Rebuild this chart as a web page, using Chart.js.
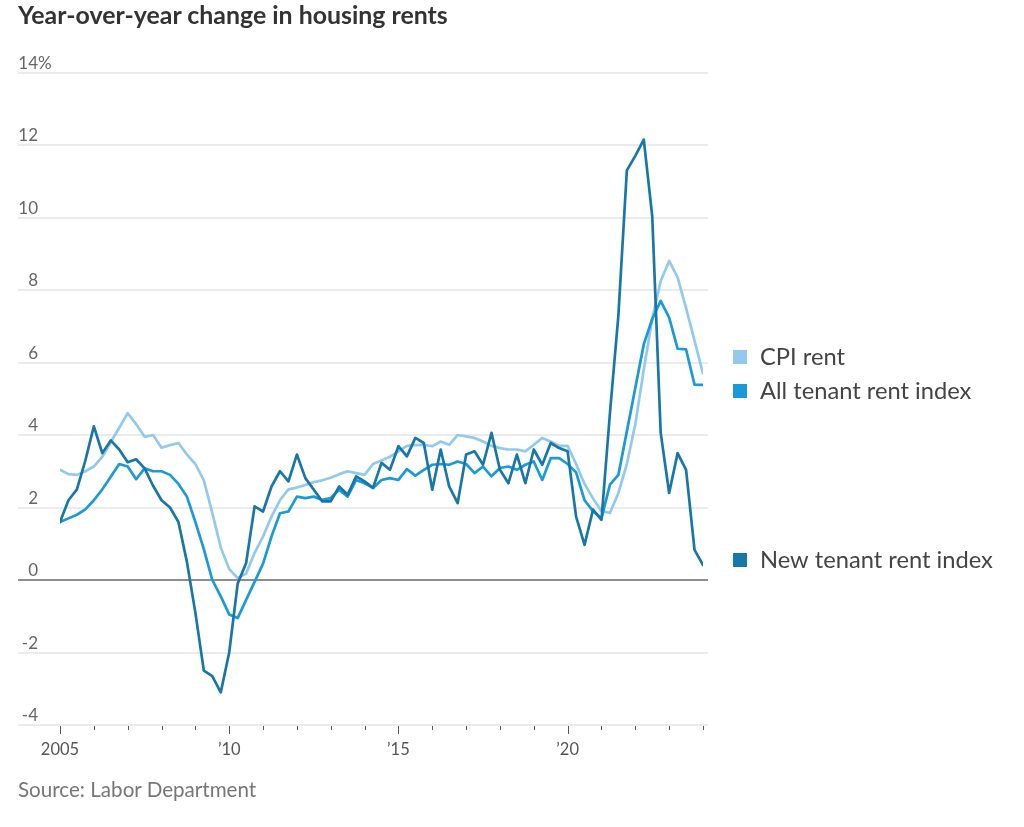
<!DOCTYPE html>
<html><head><meta charset="utf-8">
<script src="https://cdn.jsdelivr.net/npm/chart.js@4.4.1/dist/chart.umd.min.js"></script>
<style>
html,body{margin:0;padding:0;background:#fff;}
#wrap{position:relative;width:1024px;height:827px;overflow:hidden;background:#fff;}
#c{position:absolute;left:0;top:0;}
#title{position:absolute;left:18px;top:-1px;font-family:Lato,sans-serif;font-weight:bold;font-size:24.9px;color:#333;white-space:nowrap;}
#source{position:absolute;left:18px;top:777px;font-family:Lato,sans-serif;font-size:20.6px;color:#777;white-space:nowrap;}
</style></head>
<body><div id="wrap"><canvas id="c" width="1024" height="827"></canvas>
<div id="title">Year-over-year change in housing rents</div>
<div id="source">Source: Labor Department</div></div>
<script>
// Quarterly observations, 2005 Q1 .. 2024 Q1
const startYear = 2005;
const endYear = 2024;

const cpiRent = [3.04,2.92,2.9,3.0,3.13,3.4,3.8,4.2,4.6,4.3,3.95,4.0,3.65,3.72,3.78,3.46,3.2,2.75,1.85,0.9,
  0.3,0.05,0.18,0.75,1.2,1.75,2.2,2.5,2.55,2.62,2.7,2.75,2.82,2.92,3.0,2.95,2.9,3.2,3.3,3.4,
  3.55,3.7,3.72,3.73,3.69,3.82,3.73,4.0,3.96,3.92,3.82,3.7,3.64,3.6,3.6,3.55,3.73,3.92,3.82,3.7,
  3.7,3.2,2.65,2.25,1.9,1.85,2.4,3.2,4.3,5.8,7.2,8.25,8.8,8.35,7.5,6.6,5.7];

const allTenant = [1.6,1.7,1.8,1.95,2.2,2.5,2.85,3.2,3.13,2.78,3.08,3.0,3.0,2.9,2.65,2.3,1.6,0.85,0.0,-0.45,
  -0.95,-1.05,-0.55,-0.05,0.45,1.2,1.84,1.89,2.3,2.26,2.3,2.21,2.26,2.49,2.3,2.76,2.67,2.54,2.76,2.81,
  2.76,3.06,2.88,3.04,3.18,3.2,3.18,3.27,3.2,2.95,3.13,2.86,3.09,3.13,3.04,3.18,3.27,2.76,3.36,3.36,
  3.2,2.97,2.2,1.9,1.7,2.63,2.9,4.1,5.3,6.5,7.2,7.7,7.24,6.38,6.36,5.39,5.38];

const newTenant = [1.6,2.2,2.5,3.3,4.24,3.5,3.85,3.6,3.25,3.33,3.08,2.6,2.2,2.0,1.6,0.5,-0.9,-2.5,-2.65,-3.1,
  -2.0,-0.1,0.47,2.03,1.89,2.58,3.0,2.72,3.46,2.81,2.49,2.17,2.17,2.58,2.35,2.86,2.72,2.54,3.23,3.04,
  3.69,3.41,3.92,3.78,2.49,3.6,2.58,2.12,3.46,3.55,3.18,4.06,3.04,2.67,3.46,2.67,3.6,3.18,3.78,3.64,
  3.55,1.75,0.97,1.94,1.66,4.6,7.3,11.3,11.7,12.15,10.04,4.06,2.4,3.5,3.04,0.83,0.41];

const seriesNames = ['CPI rent','All tenant rent index','New tenant rent index'];
const seriesColors = ['#93c9ec','#1b9ad8','#1777a9'];

const yTickValues = [-4,-2,0,2,4,6,8,10,12,14];
const yTickLabels = ['-4','-2','0','2','4','6','8','10','12','14'];
const xTickYears = [2005,2006,2007,2008,2009,2010,2011,2012,2013,2014,2015,2016,2017,2018,2019,2020,2021,2022,2023,2024];
const xMajorYears = [2005,2010,2015,2020];
const xMajorLabels = ['2005','\u201910','\u201915','\u201920'];

// quarter positions (category axis)
const quarters = [];
for (let y = startYear; y <= endYear; y++) for (let q = 0; q < 4; q++) {
  const v = y + q/4; if (v <= endYear) quarters.push(v);
}
const toXY = arr => arr.map((v,i)=>({x:quarters[i], y:v}));

const deco = {
  id:'deco',
  beforeDatasetsDraw(chart){
    const {ctx, scales:{x,y}} = chart;
    const L = 18, R = 708;
    ctx.save();
    yTickValues.forEach((v,i)=>{
      const py = Math.round(y.getPixelForValue(v));
      ctx.strokeStyle = v===0 ? '#8e8e8e' : '#ebebeb';
      ctx.lineWidth = 2;
      ctx.beginPath(); ctx.moveTo(L,py); ctx.lineTo(R,py); ctx.stroke();
      ctx.fillStyle = '#666';
      ctx.font = '17px Lato, sans-serif';
      ctx.textBaseline = 'alphabetic';
      ctx.textAlign = 'right';
      ctx.fillText(yTickLabels[i], 38, py-4);
      if (i === yTickValues.length-1) { ctx.textAlign='left'; ctx.fillText('%', 38, py-4); }
    });
    const ay = Math.round(y.getPixelForValue(-4));
    ctx.strokeStyle = '#555'; ctx.lineWidth = 1;
    xTickYears.forEach(yr=>{
      const px = Math.round(x.getPixelForValue(yr)) + 0.5;
      const major = xMajorYears.includes(yr);
      ctx.beginPath(); ctx.moveTo(px, ay+1); ctx.lineTo(px, ay + (major?9:5)); ctx.stroke();
    });
    ctx.fillStyle = '#555'; ctx.font = '16.5px Lato, sans-serif'; ctx.textAlign='center'; ctx.textBaseline='alphabetic';
    xMajorYears.forEach((yr,i)=>{
      ctx.fillText(xMajorLabels[i], x.getPixelForValue(yr), ay+30);
    });
    ctx.restore();
  },
  afterDatasetsDraw(chart){
    const {ctx, scales:{y}} = chart;
    const ends = [cpiRent, allTenant, newTenant].map(a => y.getPixelForValue(a[a.length-1]) - 5);
    const gap = 34;
    const idx = [0,1,2].sort((a,b)=>ends[a]-ends[b]);
    let groups = idx.map(i=>({items:[i], c:ends[i]}));
    let changed = true;
    while (changed) {
      changed = false;
      for (let k=0;k<groups.length-1;k++){
        const g1=groups[k], g2=groups[k+1];
        const b1 = g1.c + (g1.items.length-1)*gap/2;
        const t2 = g2.c - (g2.items.length-1)*gap/2;
        if (t2 - b1 < gap) {
          const items = g1.items.concat(g2.items);
          const c = (g1.c*g1.items.length + g2.c*g2.items.length)/items.length;
          groups.splice(k,2,{items, c}); changed = true; break;
        }
      }
    }
    ctx.save();
    ctx.font = '23.7px Lato, sans-serif'; ctx.textBaseline='middle'; ctx.textAlign='left';
    groups.forEach(g=>{
      g.items.forEach((i,k)=>{
        const py = g.c - (g.items.length-1)*gap/2 + k*gap;
        ctx.fillStyle = seriesColors[i];
        ctx.fillRect(733, Math.round(py-7), 14, 14);
        ctx.fillStyle = '#444';
        ctx.fillText(seriesNames[i], 760, py);
      });
    });
    ctx.restore();
  }
};

new Chart(document.getElementById('c'), {
  type:'line',
  data:{
    datasets:[
      {label:seriesNames[0], data:toXY(cpiRent), borderColor:seriesColors[0], borderWidth:2.7, pointRadius:0, tension:0, order:3},
      {label:seriesNames[1], data:toXY(allTenant), borderColor:seriesColors[1], borderWidth:2.7, pointRadius:0, tension:0, order:2},
      {label:seriesNames[2], data:toXY(newTenant), borderColor:seriesColors[2], borderWidth:2.7, pointRadius:0, tension:0, order:1}
    ]
  },
  options:{
    responsive:false, animation:false, devicePixelRatio:1,
    layout:{padding:{left:60, right:321, top:72.5, bottom:102}},
    plugins:{legend:{display:false}, tooltip:{enabled:false}, title:{display:false}},
    scales:{
      x:{type:'linear', min:startYear, max:endYear, display:false},
      y:{type:'linear', min:-4, max:14, display:false}
    },
    elements:{line:{borderJoinStyle:'round', borderCapStyle:'round'}}
  },
  plugins:[deco]
});
</script></body></html>
